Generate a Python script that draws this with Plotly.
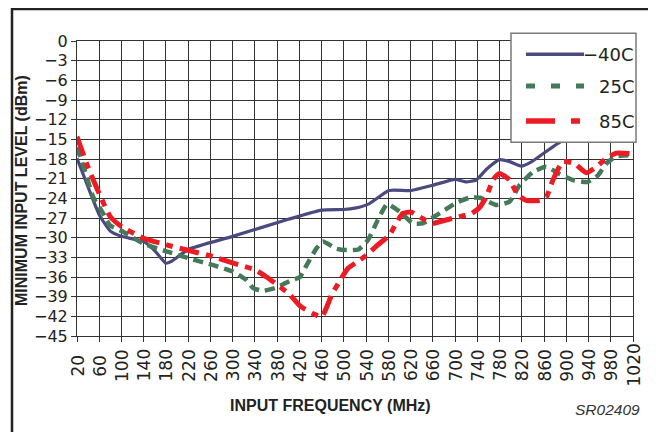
import plotly.graph_objects as go

# ---------------- data ----------------
FREQ_M40 = [20, 40, 60, 80, 100, 120, 140, 160, 180, 190, 220, 300, 400, 460, 500, 520, 546, 581,
            621, 660, 700, 720, 738, 756, 780, 798, 819, 838, 858, 885, 940, 1020]
LEVEL_M40 = [-17.9, -22.3, -26.5, -29.0, -29.8, -30.2, -30.6, -32.0, -33.9, -33.6, -31.8, -29.8,
             -27.2, -25.8, -25.7, -25.5, -24.8, -22.8, -22.8, -22.0, -21.1, -21.5, -21.2, -19.6,
             -18.1, -18.4, -19.1, -18.4, -17.2, -15.6, -13.0, -9.5]

FREQ_25 = [20, 35, 49, 67, 79, 103, 139, 181, 223, 265, 301, 325, 337, 355, 379, 403, 421, 433,
           451, 462, 487, 505, 526, 543, 561, 578, 600, 624, 642, 666, 702, 726, 745, 774, 798,
           816, 840, 864, 888, 912, 938, 957, 972, 990, 1018]
LEVEL_25 = [-16.2, -20.0, -23.8, -26.3, -28.1, -29.1, -30.9, -32.1, -33.2, -34.2, -35.2, -36.5,
            -37.7, -38.1, -37.6, -36.6, -36.0, -34.2, -31.6, -30.6, -31.7, -31.9, -31.8, -30.4,
            -27.3, -24.9, -26.0, -27.8, -27.8, -26.6, -24.7, -23.9, -23.9, -25.0, -24.5, -22.0,
            -20.0, -19.2, -20.3, -21.2, -21.5, -20.5, -18.7, -17.6, -17.4]

FREQ_85 = [20, 40, 60, 80, 100, 140, 181, 223, 265, 301, 340, 361, 385, 403, 421, 445, 460, 472,
           478, 492, 507, 522, 540, 561, 582, 594, 606, 621, 642, 660, 684, 708, 730, 744, 756,
           768, 780, 798, 813, 828, 852, 864, 876, 894, 915, 936, 954, 972, 990, 1018]
LEVEL_85 = [-14.6, -19.3, -23.3, -26.8, -28.3, -30.1, -31.1, -32.0, -32.9, -33.9, -34.9, -36.0,
            -37.5, -38.7, -40.4, -41.6, -42.1, -40.0, -38.7, -36.7, -34.7, -33.8, -32.7, -31.1,
            -29.6, -27.8, -26.3, -26.1, -27.1, -27.8, -27.3, -26.8, -26.3, -25.4, -23.8, -21.2,
            -20.2, -21.2, -23.5, -24.3, -24.3, -23.8, -21.2, -18.4, -18.7, -20.1, -19.2, -17.9,
            -17.1, -17.2]

SERIES_NAMES = ["\u221240C", "25C", "85C"]
X_TICKS = [20, 60, 100, 140, 180, 220, 260, 300, 340, 380, 420, 460, 500, 540, 580, 620, 660,
           700, 740, 780, 820, 860, 900, 940, 980, 1020]
Y_TICKS = [0, -3, -6, -9, -12, -15, -18, -21, -24, -27, -30, -33, -36, -39, -42, -45]

# ---------------- styling ----------------
# the page body has an 8px default margin, so the figure is laid out 8px in
OFF = 8
W, H = 656 - OFF, 432 - OFF
L, R, T, B = 77, 633, 41, 336          # plot area in window pixels
NAVY = "#4b4a7e"
GREEN = "#447a58"
RED = "#ed1c24"
INK = "#222222"
GRID = "#333333"
TICKFONT = "DejaVu Sans"
ARIAL = "Liberation Sans, Arial, sans-serif"


def px(x):
    return (x - L) / (R - L)


def py(y):
    return (B - y) / (B - T)


fig = go.Figure()
fig.add_trace(go.Scatter(x=FREQ_M40, y=LEVEL_M40, mode="lines", name=SERIES_NAMES[0],
                         line=dict(color=NAVY, width=3.2, shape="spline", smoothing=0.5)))
fig.add_trace(go.Scatter(x=FREQ_25, y=LEVEL_25, mode="lines", name=SERIES_NAMES[1],
                         line=dict(color=GREEN, width=4.5, dash="10px,6px", shape="spline",
                                   smoothing=0.5)))
fig.add_trace(go.Scatter(x=FREQ_85, y=LEVEL_85, mode="lines", name=SERIES_NAMES[2],
                         line=dict(color=RED, width=5, dash="20px,7px,7px,7px", shape="spline",
                                   smoothing=0.5)))

fig.update_layout(
    width=W, height=H,
    margin=dict(l=L - OFF, r=W - (R - OFF), t=T - OFF, b=H - (B - OFF), pad=0),
    paper_bgcolor="white", plot_bgcolor="white",
    showlegend=False,
    xaxis=dict(range=[20, 1020], tickvals=X_TICKS, showticklabels=False,
               showgrid=True, gridcolor=GRID, gridwidth=1,
               ticks="outside", ticklen=5, tickcolor=GRID, tickwidth=1,
               showline=True, linecolor=GRID, linewidth=1, mirror=True, zeroline=False),
    yaxis=dict(range=[-45, 0], tickvals=Y_TICKS,
               tickfont=dict(family=TICKFONT, size=16, color=INK),
               showgrid=True, gridcolor=GRID, gridwidth=1,
               ticks="outside", ticklen=5, tickcolor=GRID, tickwidth=1,
               showline=True, linecolor=GRID, linewidth=1, mirror=True, zeroline=False),
)

annotations = []
# rotated x tick labels, centred below the axis
for v in X_TICKS:
    annotations.append(dict(x=v, xref="x", y=py(365.5), yref="paper", text=str(v),
                            textangle=-90, showarrow=False, xanchor="center", yanchor="middle",
                            font=dict(family=TICKFONT, size=17, color=INK)))
# axis titles
annotations.append(dict(x=px(330.5), xref="paper", y=py(405), yref="paper",
                        text="INPUT FREQUENCY (MHz)", showarrow=False,
                        xanchor="center", yanchor="middle",
                        font=dict(family=ARIAL, size=16, color=INK, weight="bold")))
annotations.append(dict(x=px(21.5), xref="paper", y=py(190.5), yref="paper",
                        text="MINIMUM INPUT LEVEL (dBm)", textangle=-90, showarrow=False,
                        xanchor="center", yanchor="middle",
                        font=dict(family=ARIAL, size=16, color=INK, weight="bold")))
annotations.append(dict(x=px(607.5), xref="paper", y=py(409.5), yref="paper",
                        text="SR02409", showarrow=False, xanchor="center", yanchor="middle",
                        font=dict(family=ARIAL, size=15.5, color="#333333", style="italic")))

shapes = []
# outer frame
shapes.append(dict(type="rect", xref="paper", yref="paper",
                   x0=px(12), x1=px(651.5), y0=py(440), y1=py(9),
                   line=dict(color=INK, width=2.5), fillcolor="rgba(0,0,0,0)", layer="above"))
# legend box
shapes.append(dict(type="rect", xref="paper", yref="paper",
                   x0=px(511), x1=px(636), y0=py(142.3), y1=py(33.3),
                   line=dict(color="#7a7a7a", width=1.5), fillcolor="white", layer="above"))
legend_rows = [54.3, 86.0, 121.0]
legend_styles = [dict(color=NAVY, width=3.5, dash="solid"),
                 dict(color=GREEN, width=5, dash="9px,16px"),
                 dict(color=RED, width=5.5, dash="29px,16px,9px,100px")]
for name, yy, st in zip(SERIES_NAMES, legend_rows, legend_styles):
    shapes.append(dict(type="line", xref="paper", yref="paper",
                       x0=px(526), x1=px(584), y0=py(yy), y1=py(yy),
                       line=st, layer="above"))
    annotations.append(dict(x=px(636), xref="paper", y=py(yy), yref="paper", text=name,
                            showarrow=False, xanchor="right", yanchor="middle",
                            font=dict(family=TICKFONT, size=18, color=INK)))

fig.update_layout(annotations=annotations, shapes=shapes)
fig.write_html("out.html")
